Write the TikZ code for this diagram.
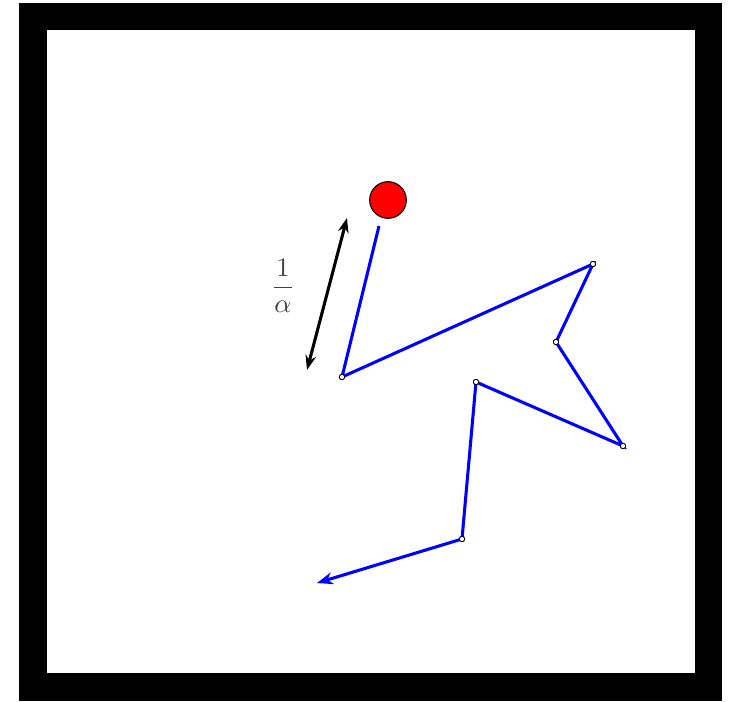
\documentclass[tikz,border=0pt]{standalone}
\usetikzlibrary{arrows.meta}
\begin{document}
\begin{tikzpicture}[x=0.75pt,y=-0.75pt,
  walk/.style={blue,line width=2.3pt,line join=miter},
  vtx/.style={circle,draw=black,fill=white,inner sep=0pt,minimum size=4pt,line width=0.6pt},
  ball/.style={circle,draw=black,fill=red,inner sep=0pt,minimum size=27.5pt,line width=0.8pt},
  dim/.style={black,line width=2.3pt,{Stealth[length=11pt,width=8pt]}-{Stealth[length=11pt,width=8pt]}}]
\useasboundingbox (0,0) rectangle (733,701);
\draw[line width=20.3pt] (33,16.5) rectangle (708.5,687);
\node[ball] (b) at (388,200) {};
\coordinate (s) at (379,226);
\node[vtx] (p1) at (342,377) {};
\node[vtx] (p2) at (593,264) {};
\node[vtx] (p3) at (556,342) {};
\node[vtx] (p4) at (623,446) {};
\node[vtx] (p5) at (476,382) {};
\node[vtx] (p6) at (462,539) {};
\coordinate (e) at (317,583);
\draw[walk] (s) -- (p1.center) -- (p2.center) -- (p3.center) -- (p4.center) -- (p5.center) -- (p6.center);
\draw[walk,-{Stealth[length=12pt,width=9pt]}] (p6.center) -- (e);
\foreach \p in {p1,p2,p3,p4,p5,p6} \node[vtx] at (\p) {};
\coordinate (d1) at (347,218);
\coordinate (d2) at (307,370);
\draw[dim] (d1) -- (d2);
\node[text=black!75,scale=2] (lab) at (283,286) {$\displaystyle\frac{1}{\alpha}$};
\end{tikzpicture}
\end{document}
